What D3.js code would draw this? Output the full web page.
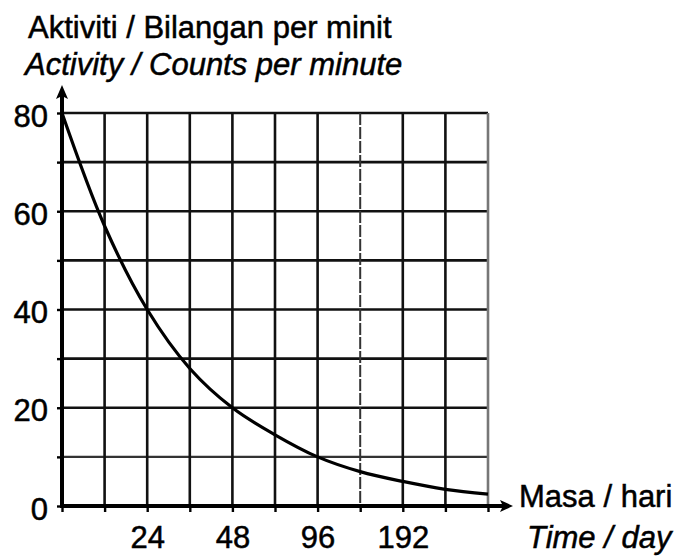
<!DOCTYPE html>
<html>
<head>
<meta charset="utf-8">
<script src="https://cdn.jsdelivr.net/npm/d3@7"></script>
<style>
  html, body { margin: 0; padding: 0; background: #fff; }
  svg { display: block; }
  text { font-family: "Liberation Sans", Arial, sans-serif; fill: #000; stroke: #000; stroke-width: 0.5px; }
</style>
</head>
<body>
<svg id="chart" width="683" height="556"></svg>
<script>
// ---- data ----
const gridCols = [0, 1, 2, 3, 4, 5, 6, 7, 8, 9, 10];
const gridRows = [0, 10, 20, 30, 40, 50, 60, 70, 80];
const xTickPos = [2, 4, 6, 8];
const xTickLabels = ["24", "48", "96", "192"];
const yTickLabels = [0, 20, 40, 60, 80];
const curveX = [0, 1, 2, 3, 4, 5, 6, 7, 8, 9, 10];
const activity = [80, 57, 40, 28, 20, 14.5, 10, 7, 5, 3.4, 2.4];
const yTitle1 = "Aktiviti / Bilangan per minit";
const yTitle2 = "Activity / Counts per minute";
const xTitle1 = "Masa / hari";
const xTitle2 = "Time / day";

// ---- layout ----
const svg = d3.select("#chart");
const x = d3.scaleLinear().domain([0, 10]).range([62, 488]);
const y = d3.scaleLinear().domain([0, 80]).range([506, 113]);
const FS = 31;

// grid
const grid = svg.append("g");
grid.selectAll("line.h").data(gridRows.filter(d => d > 0)).join("line")
  .attr("x1", x(0)).attr("x2", x(10))
  .attr("y1", d => y(d)).attr("y2", d => y(d))
  .attr("stroke", d => d === 10 ? "#333" : "#111")
  .attr("stroke-width", d => d === 10 ? 2.2 : 2.6);
grid.selectAll("line.v").data(gridCols.filter(d => d > 0)).join("line")
  .attr("x1", d => x(d)).attr("x2", d => x(d))
  .attr("y1", y(80)).attr("y2", y(0))
  .attr("stroke", d => d === 10 ? "#777" : (d === 7 ? "#333" : "#111"))
  .attr("stroke-width", d => d === 7 ? 2 : 2.6)
  .attr("stroke-dasharray", d => d === 7 ? "12 2" : null);

// axes with ticks
const xAxis = d3.axisBottom(x)
  .tickValues(gridCols)
  .tickSize(6)
  .tickPadding(14)
  .tickFormat(d => { const i = xTickPos.indexOf(d); return i >= 0 ? xTickLabels[i] : ""; });
const gx = svg.append("g").attr("transform", `translate(0,${y(0)})`).call(xAxis);
gx.select(".domain").remove();
gx.selectAll(".tick line").attr("stroke", "#000").attr("stroke-width", 2.4);
gx.selectAll(".tick text").attr("font-size", FS).attr("font-family", "Liberation Sans, Arial, sans-serif").attr("fill", "#000");

const yAxis = d3.axisLeft(y)
  .tickValues(gridRows)
  .tickSize(5)
  .tickPadding(9)
  .tickFormat(d => yTickLabels.includes(d) ? String(d) : "");
const gy = svg.append("g").attr("transform", `translate(${x(0)},0)`).call(yAxis);
gy.select(".domain").remove();
gy.selectAll(".tick line").attr("stroke", "#000").attr("stroke-width", 2.4);
gy.selectAll(".tick text").attr("font-size", FS).attr("dy", "0.42em")
  .attr("font-family", "Liberation Sans, Arial, sans-serif").attr("fill", "#000");

// main axis lines with arrows
const x0 = x(0), y0 = y(0);
svg.append("line").attr("x1", x0).attr("x2", 503).attr("y1", y0).attr("y2", y0)
  .attr("stroke", "#000").attr("stroke-width", 4);
svg.append("path").attr("d", `M513,${y0} L500,${y0 - 6} L503,${y0} L500,${y0 + 6} Z`).attr("fill", "#000");
svg.append("line").attr("x1", x0).attr("x2", x0).attr("y1", y0 + 2).attr("y2", 96)
  .attr("stroke", "#000").attr("stroke-width", 4);
svg.append("path").attr("d", `M${x0},85 L${x0 - 6},99 L${x0},96 L${x0 + 6},99 Z`).attr("fill", "#000");

// curve
const line = d3.line().x((d, i) => x(curveX[i])).y(d => y(d)).curve(d3.curveCatmullRom.alpha(0.5));
svg.append("path").datum(activity).attr("d", line)
  .attr("fill", "none").attr("stroke", "#000").attr("stroke-width", 3.2);

// titles
svg.append("text").attr("x", 28).attr("y", 38).attr("font-size", FS).text(yTitle1);
svg.append("text").attr("x", 25).attr("y", 75).attr("font-size", FS).attr("font-style", "italic").text(yTitle2);
svg.append("text").attr("x", 519).attr("y", 507).attr("font-size", FS).text(xTitle1);
svg.append("text").attr("x", 527).attr("y", 548).attr("font-size", FS).attr("font-style", "italic").text(xTitle2);
</script>
</body>
</html>
